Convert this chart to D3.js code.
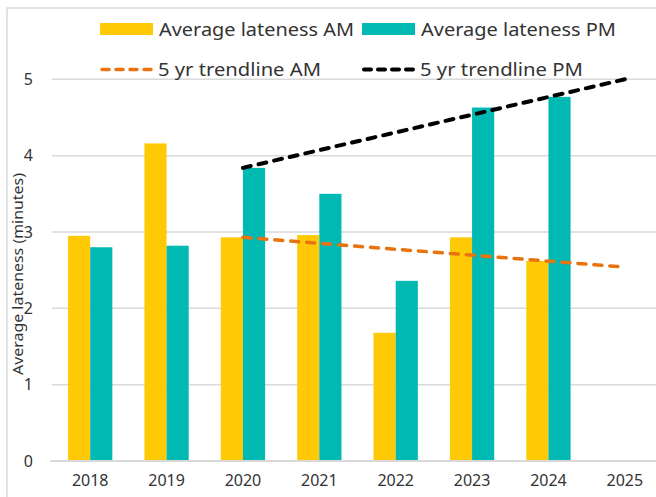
<!DOCTYPE html>
<html>
<head>
<meta charset="utf-8">
<script src="https://cdn.jsdelivr.net/npm/d3@7"></script>
<style>
  html, body { margin: 0; padding: 0; background: #fff; }
  svg { display: block; }
  text { font-family: "Noto Sans", "DejaVu Sans", sans-serif; fill: #333; }
</style>
</head>
<body>
<svg id="chart" width="656" height="497"></svg>
<script>
// ---- data ----
const years = ["2018", "2019", "2020", "2021", "2022", "2023", "2024", "2025"];
const amValues = [2.95, 4.16, 2.93, 2.96, 1.68, 2.93, 2.62, null];
const pmValues = [2.80, 2.82, 3.84, 3.50, 2.36, 4.63, 4.77, null];
const trendAMYears = ["2020", "2025"];
const trendAMValues = [2.93, 2.54];
const trendPMYears = ["2020", "2025"];
const trendPMValues = [3.84, 5.00];
const yTicks = [0, 1, 2, 3, 4, 5];
const seriesNames = ["Average lateness AM", "Average lateness PM"];
const trendNames = ["5 yr trendline AM", "5 yr trendline PM"];

const colors = { am: "#FFCA05", pm: "#00B9B2", tAM: "#E8730F", tPM: "#000000" };

const svg = d3.select("#chart");
svg.append("rect").attr("width", 656).attr("height", 497).attr("fill", "#fff");

// outer chart border (cropped at right/bottom)
svg.append("rect")
  .attr("x", 7).attr("y", 8).attr("width", 700).attr("height", 600)
  .attr("fill", "none").attr("stroke", "#d9d9d9").attr("stroke-width", 1.5);

const x = d3.scaleBand().domain(years).range([52, 663]).paddingInner(0.42).paddingOuter(0.21);
const xs = d3.scaleBand().domain(["am", "pm"]).range([0, x.bandwidth()]);
const y = d3.scaleLinear().domain([0, 5]).range([461, 79.3]);

// gridlines
svg.append("g").selectAll("line").data(yTicks.filter(d => d > 0)).join("line")
  .attr("x1", 52).attr("x2", 663)
  .attr("y1", d => y(d)).attr("y2", d => y(d))
  .attr("stroke", "#d9d9d9").attr("stroke-width", 1.5);

// y axis labels
const yAxis = d3.axisLeft(y).tickValues(yTicks).tickSize(0).tickPadding(0).tickFormat(d3.format("d"));
const gy = svg.append("g").attr("transform", "translate(33,0)").call(yAxis);
gy.select(".domain").remove();
gy.selectAll("text").style("font-size", "16px").style("font-family", "'Noto Sans', sans-serif").attr("fill", "#333");

// bars
const rows = years.map((yr, i) => ({ yr, am: amValues[i], pm: pmValues[i] }));
const groups = svg.append("g").selectAll("g").data(rows).join("g")
  .attr("transform", d => `translate(${x(d.yr)},0)`);
groups.selectAll("rect")
  .data(d => [{ k: "am", v: d.am }, { k: "pm", v: d.pm }].filter(e => e.v != null))
  .join("rect")
  .attr("x", e => xs(e.k)).attr("width", xs.bandwidth())
  .attr("y", e => y(e.v)).attr("height", e => y(0) - y(e.v))
  .attr("fill", e => colors[e.k]);

// x axis
const xAxis = d3.axisBottom(x).tickSize(0).tickPadding(14);
const gx = svg.append("g").attr("transform", `translate(0,${y(0)})`).call(xAxis);
gx.select(".domain").remove();
gx.selectAll("text").style("font-size", "16px").style("font-family", "'Noto Sans', sans-serif").attr("fill", "#333");
svg.append("line").attr("x1", 50).attr("x2", 663).attr("y1", y(0)).attr("y2", y(0))
  .attr("stroke", "#d9d9d9").attr("stroke-width", 2);

// trendlines
const line = d3.line().x(d => x(d[0]) + x.bandwidth() / 2).y(d => y(d[1]));
svg.append("path")
  .attr("d", line(trendAMYears.map((yr, i) => [yr, trendAMValues[i]])))
  .attr("fill", "none").attr("stroke", colors.tAM).attr("stroke-width", 3.5)
  .attr("stroke-linecap", "round").attr("stroke-dasharray", "8,8");
svg.append("path")
  .attr("d", line(trendPMYears.map((yr, i) => [yr, trendPMValues[i]])))
  .attr("fill", "none").attr("stroke", colors.tPM).attr("stroke-width", 4)
  .attr("stroke-linecap", "round").attr("stroke-dasharray", "8,8");

// y axis title
svg.append("text")
  .attr("transform", "translate(23,274) rotate(-90)")
  .attr("text-anchor", "middle")
  .attr("textLength", 202).attr("lengthAdjust", "spacingAndGlyphs")
  .style("font-size", "15px")
  .text("Average lateness (minutes)");

// legend
const leg = svg.append("g");
const sw = [{ x: 100, c: colors.am, t: seriesNames[0] }, { x: 362, c: colors.pm, t: seriesNames[1] }];
sw.forEach(s => {
  leg.append("rect").attr("x", s.x).attr("y", 23).attr("width", 53).attr("height", 12).attr("fill", s.c);
  leg.append("text").attr("x", s.x + 59).attr("y", 35.5)
    .attr("textLength", 195).attr("lengthAdjust", "spacingAndGlyphs")
    .style("font-size", "18px").text(s.t);
});
const tl = [{ x: 100, c: colors.tAM, t: trendNames[0], w: 3.5 }, { x: 362, c: colors.tPM, t: trendNames[1], w: 4 }];
tl.forEach(s => {
  leg.append("line").attr("x1", s.x + 2).attr("x2", s.x + 53).attr("y1", 69.5).attr("y2", 69.5)
    .attr("stroke", s.c).attr("stroke-width", s.w)
    .attr("stroke-linecap", "round").attr("stroke-dasharray", "7,7");
  leg.append("text").attr("x", s.x + 58).attr("y", 76)
    .attr("textLength", 163).attr("lengthAdjust", "spacingAndGlyphs")
    .style("font-size", "18px").text(s.t);
});
</script>
</body>
</html>
